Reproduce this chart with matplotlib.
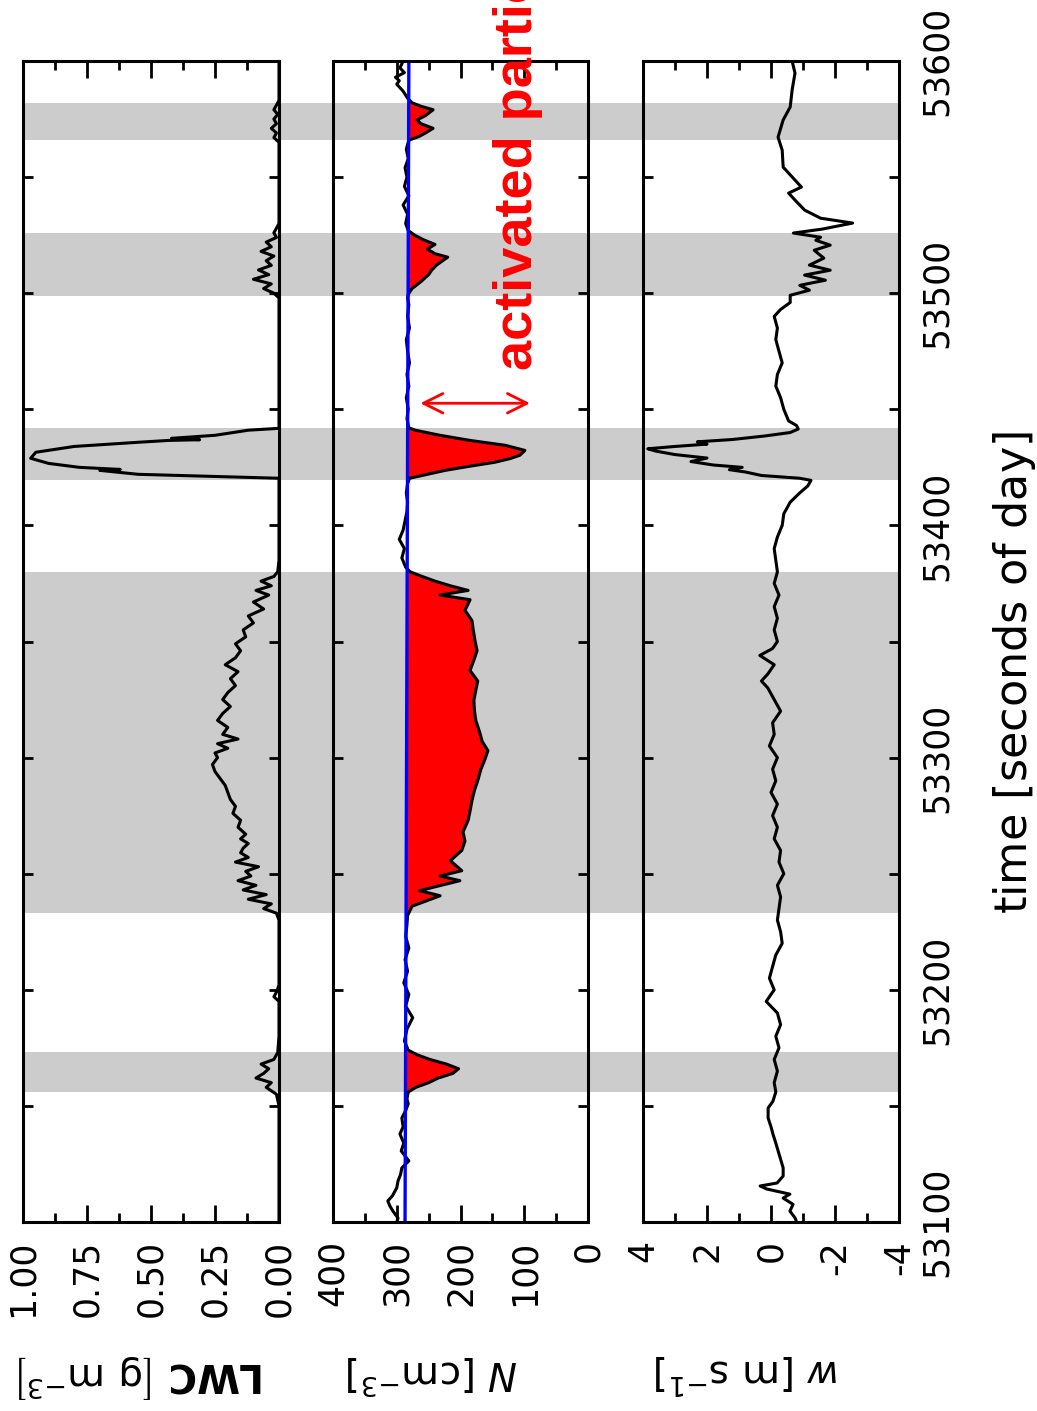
#LIBRERIAS
import matplotlib.pyplot as plt
import numpy as np
from matplotlib.ticker import MultipleLocator, FormatStrFormatter

plt.rcParams['font.family'] = 'DejaVu Sans'
plt.rcParams['axes.unicode_minus'] = False

#DATOS (tiempo en segundos del dia)
cloud_start = [53156, 53233, 53419.5, 53499, 53566]
cloud_end = [53173, 53380, 53442, 53526, 53582]

lwc_time = [53100, 53150, 53155, 53158, 53160, 53162, 53164, 53166, 53168, 53170, 53173, 53180,
            53195, 53197, 53199, 53202, 53230,
            53233, 53235, 53237, 53239, 53241, 53243, 53245, 53247, 53249, 53251, 53253, 53255, 53257, 53259, 53261, 53263, 53265, 53267,
            53270, 53273, 53276, 53279, 53282, 53285, 53288, 53291, 53294, 53297,
            53300, 53302, 53304, 53306, 53308, 53310,
            53313, 53316, 53319, 53322, 53325, 53328, 53331, 53334, 53337, 53340, 53343, 53346, 53349, 53352, 53355, 53358, 53361, 53364, 53367,
            53370, 53372, 53374, 53376, 53378, 53380, 53385,
            53418, 53420.3, 53422, 53423.7, 53424.1, 53425, 53426.7, 53428.9, 53431.5, 53434, 53435.8, 53436.6, 53436.9, 53437.5, 53438.8, 53441, 53441.8, 53445,
            53498, 53500, 53502, 53504, 53506, 53508, 53510, 53512, 53514, 53516, 53518, 53520, 53522, 53524, 53526, 53530,
            53565, 53567, 53569, 53571, 53573, 53575, 53577, 53579, 53581, 53583, 53600]
lwc_value = [0, 0, 0.01, 0.05, 0.03, 0.09, 0.06, 0.04, 0.07, 0.02, 0.005, 0,
             0, 0.02, 0.01, 0, 0,
             0.01, 0.06, 0.03, 0.12, 0.05, 0.14, 0.09, 0.16, 0.11, 0.13, 0.08, 0.17, 0.12, 0.15, 0.14, 0.12, 0.15, 0.13,
             0.16, 0.15, 0.18, 0.17, 0.19, 0.20, 0.21, 0.23, 0.25, 0.26,
             0.24, 0.25, 0.20, 0.24, 0.16, 0.22,
             0.20, 0.24, 0.22, 0.19, 0.22, 0.20, 0.17, 0.19, 0.16, 0.21, 0.17, 0.15, 0.17, 0.13, 0.14, 0.10, 0.12, 0.06, 0.10,
             0.04, 0.09, 0.03, 0.07, 0.02, 0.005, 0,
             0, 0, 0.55, 0.70, 0.62, 0.78, 0.90, 0.97, 0.95, 0.80, 0.55, 0.43, 0.31, 0.42, 0.25, 0.12, 0, 0,
             0, 0.02, 0.06, 0.03, 0.10, 0.04, 0.08, 0.03, 0.05, 0.02, 0.07, 0.03, 0.05, 0.01, 0.02, 0,
             0, 0.02, 0.01, 0.03, 0.01, 0.02, 0.005, 0.02, 0.01, 0, 0]

n_time = [53100, 53101.7, 53104.7, 53107, 53109.1, 53111.2, 53114.7, 53117.7, 53120.5, 53123.3, 53126.3, 53130.6, 53134, 53137.9, 53141, 53144.8, 53148, 53150.9, 53153,
          53156, 53158, 53160, 53162, 53164, 53166, 53168, 53170, 53172, 53174,
          53178, 53183, 53188, 53193, 53198, 53203, 53208, 53213, 53218, 53223, 53228, 53232,
          53236, 53240.5, 53242.7, 53247, 53249, 53251.3, 53255.6, 53260, 53264, 53268,
          53273, 53277, 53281.5, 53286, 53290, 53295, 53299, 53303, 53307, 53311,
          53316, 53320, 53324.6, 53329, 53333, 53337.5, 53342, 53346, 53350, 53355,
          53359, 53363.4, 53368, 53370, 53372, 53374, 53376, 53378.4, 53380,
          53382, 53386, 53390, 53394, 53398, 53402, 53406, 53410, 53414, 53418,
          53420.3, 53422, 53423.7, 53425.5, 53427.2, 53428.8, 53430.2, 53432.3, 53434.5, 53436.6, 53438.8, 53441, 53442,
          53446, 53450, 53455, 53460, 53465, 53470, 53475, 53480, 53485, 53490, 53495, 53498,
          53499.5, 53502, 53505, 53508, 53510, 53512, 53514, 53515.5, 53517, 53519, 53521, 53523, 53525, 53527,
          53530, 53534, 53538, 53542, 53546, 53550, 53554, 53558, 53562, 53565,
          53566, 53567.5, 53569, 53571, 53573, 53574.6, 53576.5, 53579, 53580.5, 53582,
          53584, 53587, 53590, 53591.5, 53593, 53595, 53597, 53600]
n_value = [300, 298, 306, 311, 314, 307, 300, 298, 294, 292, 281, 293, 289, 295, 290, 292, 286, 282, 284,
           282, 270, 250, 235, 212, 203, 222, 248, 268, 282,
           288, 284, 275, 286, 281, 289, 283, 287, 281, 286, 284, 283,
           276, 232, 264, 201, 232, 198, 216, 198, 193, 196,
           188, 185, 182, 178, 173, 168, 162, 157, 166, 170,
           176, 178, 179, 176, 173, 185, 179, 174, 177, 180,
           182, 193, 185, 232, 188, 216, 240, 264, 279,
           286, 292, 288, 296, 290, 287, 284, 283, 285, 283,
           280, 252, 224, 185, 146, 122, 107, 99, 130, 185, 232, 271, 281,
           284, 282, 285, 281, 284, 280, 283, 285, 280, 283, 281, 283,
           282, 276, 262, 250, 245, 238, 228, 220, 240, 252, 240, 258, 272, 282,
           286, 283, 290, 281, 288, 284, 287, 282, 285, 282,
           280, 265, 255, 243, 262, 268, 255, 243, 262, 276,
           283, 290, 300, 296, 302, 288, 295, 290]

# linea azul (umbral de particulas)
base_time = [53100, 53600]
base_value = [287, 281]

w_time = [53100, 53101.8, 53104.7, 53107.6, 53110.3, 53112, 53114.2, 53115.5, 53116.8, 53119.8,
          53123.3, 53127, 53130.6, 53134, 53137.9, 53141, 53144.8, 53149.1, 53152,
          53156, 53160, 53165, 53170, 53175, 53180, 53185, 53190, 53195, 53200,
          53205, 53210, 53215, 53220, 53225, 53230, 53235, 53240, 53245, 53250,
          53255, 53260, 53265, 53270, 53275, 53280, 53285, 53290, 53295, 53300,
          53305, 53310, 53315, 53320, 53325, 53330, 53333, 53336, 53340, 53344,
          53347, 53350, 53355, 53360, 53365, 53370, 53375, 53380, 53385, 53390,
          53395, 53400, 53405, 53410, 53414, 53417, 53419.4,
          53420.3, 53421.5, 53423, 53424, 53425, 53426, 53427.5, 53429, 53430.5, 53432,
          53433, 53434, 53435, 53436, 53437, 53438.5, 53440, 53441.5, 53443, 53445,
          53450, 53455, 53460, 53465, 53470, 53475, 53480, 53485, 53490, 53493, 53496, 53499.1,
          53501.3, 53503.4, 53505.6, 53507.8, 53509.9, 53512.1, 53515.1, 53518.5, 53520.7, 53522.8,
          53524.1, 53525.9, 53527.6, 53530.2, 53532.3, 53535.8, 53540.1, 53543.1, 53545.7, 53548.7,
          53554.3, 53561.6, 53567.2, 53574.6, 53580.2, 53587.5, 53594.8, 53600]
w_value = [-0.8, -0.75, -0.59, -0.69, -0.38, -0.59, 0.13, 0.34, -0.19, -0.38,
           -0.38, -0.3, -0.22, -0.15, -0.06, 0.0, 0.09, 0.09, -0.06,
           -0.15, -0.1, -0.2, -0.1, -0.25, -0.15, -0.3, -0.2, 0.15, -0.1,
           0.05, -0.05, -0.15, -0.35, -0.3, -0.2, -0.25, -0.3, -0.2, -0.4,
           -0.25, -0.3, -0.1, -0.2, -0.05, -0.2, 0.0, -0.15, -0.05, -0.2,
           0.05, -0.1, -0.05, -0.3, -0.1, 0.1, 0.3, 0.1, -0.1, 0.35,
           -0.05, -0.2, -0.1, -0.2, -0.1, -0.25, -0.1, -0.2, -0.15, -0.1,
           -0.2, -0.35, -0.4, -0.6, -0.9, -1.15, -1.25,
           -0.9, 0.3, 0.8, 1.3, 0.9, 1.8, 2.5, 2.0, 3.0, 3.6,
           3.85, 3.0, 2.0, 2.3, 1.2, 0.2, -0.6, -0.85, -0.8, -0.55,
           -0.4, -0.3, -0.15, -0.2, -0.35, -0.25, -0.15, -0.2, -0.1, -0.3, -0.6, -0.6,
           -1.2, -0.9, -1.7, -1.05, -1.85, -1.2, -1.65, -1.35, -1.85, -1.4,
           -1.55, -0.7, -1.6, -2.55, -1.55, -1.05, -0.75, -0.55, -0.95, -0.75,
           -0.38, -0.35, -0.22, -0.38, -0.6, -0.66, -0.75, -0.66]

#FIGURA (girada: el tiempo va en el eje vertical)
fig = plt.figure(figsize=(10.37, 14.11), dpi=100)
bot = 189 / 1411
alto = 1161 / 1411

bg = fig.add_axes([23 / 1037, bot, 876 / 1037, alto], zorder=0)
bg.set_ylim(53100, 53600)
bg.axis('off')
for a, b in zip(cloud_start, cloud_end):
    bg.axhspan(a, b, color='#cccccc', lw=0)


def estilo(ax, xmax, xmin, major, minor, fmt):
    ax.set_facecolor('none')
    ax.set_xlim(xmax, xmin)
    ax.set_ylim(53100, 53600)
    ax.xaxis.set_major_locator(MultipleLocator(major))
    ax.xaxis.set_minor_locator(MultipleLocator(minor))
    ax.xaxis.set_major_formatter(FormatStrFormatter(fmt))
    ax.yaxis.set_major_locator(MultipleLocator(100))
    ax.yaxis.set_minor_locator(MultipleLocator(50))
    ax.tick_params(which='both', direction='in', top=True, bottom=True, left=True, right=True, width=2)
    ax.tick_params(axis='x', which='major', length=12, labelsize=25, labelrotation=90, pad=13)
    ax.tick_params(axis='x', which='minor', length=6.5)
    ax.tick_params(axis='y', which='both', length=7.5, labelleft=False)
    for s in ax.spines.values():
        s.set_linewidth(2.2)


ax1 = fig.add_axes([23 / 1037, bot, 256 / 1037, alto], zorder=1)
ax2 = fig.add_axes([333 / 1037, bot, 255 / 1037, alto], zorder=1)
ax3 = fig.add_axes([643 / 1037, bot, 256 / 1037, alto], zorder=1)

estilo(ax1, 1.0, 0.0, 0.25, 0.125, '%.2f')
estilo(ax2, 400, 0, 100, 50, '%d')
estilo(ax3, 4, -4, 2, 1, '%d')

# LWC
ax1.plot(lwc_value, lwc_time, 'k', lw=2.2)
ax1.set_xlabel(r'$\mathbf{LWC}\ \left[\mathrm{g\ m^{-3}}\right]$', fontsize=28, rotation=180)
ax1.xaxis.set_label_coords(0.461, -0.112)

# N con relleno rojo dentro de las nubes
nt = np.array(n_time)
nv = np.array(n_value)
base = np.interp(nt, base_time, base_value)
nube = np.zeros(len(nt), dtype=bool)
for a, b in zip(cloud_start, cloud_end):
    nube |= (nt >= a) & (nt <= b)
ax2.fill_betweenx(nt, nv, base, where=(nv < base) & nube, color='red', lw=0, interpolate=True)
ax2.plot(nv, nt, 'k', lw=2.2)
ax2.plot(base_value, base_time, color='blue', lw=2.4)
ax2.set_xlabel(r'$N\ \left[\mathrm{cm^{-3}}\right]$', fontsize=28, rotation=180)
ax2.xaxis.set_label_coords(0.388, -0.112)
ax2.annotate('', xy=(91, 53452.6), xytext=(263, 53452.6),
             arrowprops=dict(arrowstyle='<->', color='red', lw=2, mutation_scale=35, shrinkA=0, shrinkB=0))
ax2.text(110, 53467, 'activated particles', rotation=90, rotation_mode='anchor', ha='left', va='center',
         color='red', fontsize=39, fontweight='bold', family='Liberation Sans', clip_on=False)

# w
ax3.plot(w_value, w_time, 'k', lw=2.2)
ax3.set_xlabel(r'$w\ \left[\mathrm{m\ s^{-1}}\right]$', fontsize=28, rotation=180)
ax3.xaxis.set_label_coords(0.406, -0.112)
ax3.tick_params(axis='y', labelright=True, labelrotation=90, labelsize=25, pad=15)
for lab in ax3.yaxis.get_majorticklabels():
    lab.set_verticalalignment('center')
ax3.yaxis.set_label_position('right')
ax3.set_ylabel(r'time $\left[\mathrm{seconds\ of\ day}\right]$', fontsize=32)
ax3.yaxis.set_label_coords(1.36, 0.473)

fig.savefig('out.png', dpi=100)
